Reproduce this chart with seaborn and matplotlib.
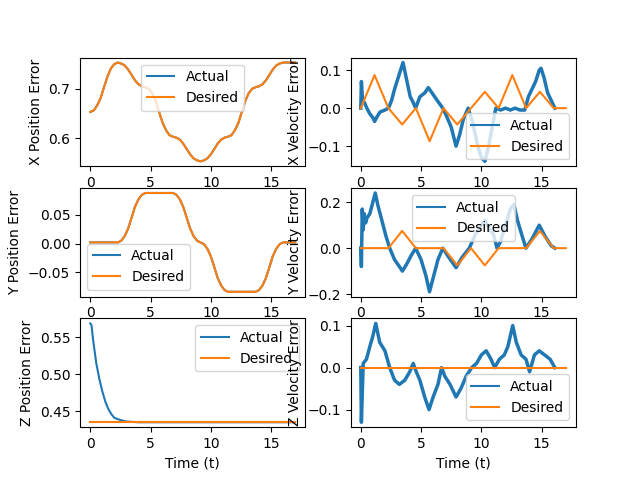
import numpy as np
import pandas as pd
import matplotlib
matplotlib.use("Agg")
import matplotlib.pyplot as plt
import seaborn as sns

# ---------------- data ----------------
t_pos = [0, 0.29, 0.57, 0.86, 1.14, 1.43, 1.71, 2.0, 2.29, 2.57, 2.86, 3.14, 3.43, 3.71,
         4.0, 4.29, 4.57, 4.86, 5.14, 5.43, 5.71, 6.0, 6.29, 6.57, 6.86, 7.14, 7.43, 7.71,
         8.0, 8.29, 8.57, 8.86, 9.14, 9.43, 9.71, 10.0, 10.29, 10.57, 10.86, 11.14, 11.43,
         11.71, 12.0, 12.29, 12.57, 12.86, 13.14, 13.43, 13.71, 14.0, 14.29, 14.57, 14.86,
         15.14, 15.43, 15.71, 16.0, 17.0]

x_pos_desired = [0.653, 0.656, 0.666, 0.681, 0.703, 0.725, 0.741, 0.750,
                 0.753, 0.751, 0.747, 0.739, 0.728, 0.717, 0.709, 0.705,
                 0.703, 0.700, 0.691, 0.675, 0.653, 0.631, 0.616, 0.606,
                 0.603, 0.601, 0.597, 0.589, 0.578, 0.567, 0.559, 0.555,
                 0.553, 0.555, 0.559, 0.567, 0.578, 0.589, 0.597, 0.601,
                 0.603, 0.606, 0.616, 0.631, 0.653, 0.675, 0.691, 0.700,
                 0.703, 0.705, 0.709, 0.717, 0.728, 0.739, 0.747, 0.751,
                 0.753, 0.753]
x_pos_actual = list(x_pos_desired)

y_pos_desired = [0.002, 0.002, 0.002, 0.002, 0.002, 0.002, 0.002, 0.002,
                 0.002, 0.005, 0.013, 0.026, 0.045, 0.064, 0.077, 0.085,
                 0.088, 0.088, 0.088, 0.088, 0.088, 0.088, 0.088, 0.088,
                 0.088, 0.085, 0.077, 0.064, 0.045, 0.026, 0.013, 0.005,
                 0.002, -0.001, -0.009, -0.022, -0.041, -0.060, -0.073, -0.081,
                 -0.084, -0.084, -0.084, -0.084, -0.084, -0.084, -0.084, -0.084,
                 -0.084, -0.081, -0.073, -0.060, -0.041, -0.022, -0.009, -0.001,
                 0.002, 0.002]
y_pos_actual = list(y_pos_desired)

t_zpos_actual = [0, 0.1, 0.25, 0.5, 0.75, 1.0, 1.25, 1.5, 1.75, 2.0, 2.5, 3.0, 4.0, 16.9]
z_pos_actual = [0.569, 0.567, 0.545, 0.515, 0.494, 0.477, 0.463, 0.453, 0.446, 0.441,
                0.438, 0.436, 0.435, 0.435]
t_zpos_desired = [0, 17]
z_pos_desired = [0.435, 0.435]

t_vel_desired = [0, 1.14, 2.29, 3.43, 4.57, 5.71, 6.86, 8.0, 9.14, 10.29, 11.43,
                 12.57, 13.71, 14.86, 16.0, 17.0]
x_vel_desired = [0, 0.087, 0, -0.043, 0, -0.087, 0, -0.043, 0, 0.043, 0,
                 0.087, 0, 0.043, 0, 0]
y_vel_desired = [0, 0, 0, 0.075, 0, 0, 0, -0.075, 0, -0.075, 0,
                 0, 0, 0.075, 0, 0]
z_vel_desired = [0, 0, 0, 0, 0, 0, 0, 0, 0, 0, 0, 0, 0, 0, 0, 0]

t_xvel_actual = [0, 0.05, 0.15, 0.3, 0.5, 0.75, 1.0, 1.15, 1.3, 1.6, 2.0, 2.3, 2.55,
                 2.8, 3.05, 3.3, 3.5, 3.7, 3.9, 4.1, 4.3, 4.55, 4.9, 5.3, 5.6, 5.8,
                 6.3, 6.8, 7.1, 7.5, 7.9, 8.2, 8.5, 8.9, 9.3, 9.7, 10.0, 10.3, 10.6,
                 10.9, 11.2, 11.6, 12.0, 12.4, 12.8, 13.2, 13.6, 13.9, 14.2, 14.5,
                 14.8, 14.95, 15.2, 15.5, 15.8, 16.1]
x_vel_actual = [0, 0.07, 0.02, 0.015, 0.0, -0.015, -0.025, -0.035, -0.025, -0.01,
                -0.005, 0.0, 0.02, 0.05, 0.075, 0.1, 0.12, 0.09, 0.06, 0.03, 0.018,
                0.0, 0.03, 0.04, 0.054, 0.045, 0.022, 0.0, -0.02, -0.05, -0.1, -0.07,
                -0.03, 0.0, -0.04, -0.1, -0.13, -0.14, -0.1, -0.05, 0.0, -0.005, 0.0,
                -0.005, 0.0, -0.005, -0.005, 0.03, 0.05, 0.07, 0.1, 0.105, 0.08, 0.04,
                0.02, 0.0]

t_yvel_actual = [0, 0.05, 0.12, 0.2, 0.28, 0.4, 0.5, 0.75, 1.0, 1.2, 1.4, 1.6, 1.85,
                 2.1, 2.4, 2.8, 3.2, 3.45, 3.8, 4.2, 4.55, 5.0, 5.4, 5.7, 6.05, 6.4,
                 6.8, 7.3, 7.9, 8.4, 9.0, 9.5, 10.0, 10.3, 10.7, 11.0, 11.3, 11.6,
                 12.0, 12.4, 12.7, 13.0, 13.4, 13.7, 14.2, 14.8, 15.3, 15.8, 16.1]
y_vel_actual = [0, -0.08, 0.17, 0.08, 0.15, 0.11, 0.13, 0.15, 0.2, 0.24, 0.19, 0.15,
                0.1, 0.05, 0.0, -0.05, -0.08, -0.1, -0.07, -0.03, 0.0, -0.05, -0.12,
                -0.19, -0.12, -0.05, 0.0, -0.04, -0.085, -0.04, 0.0, 0.06, 0.1, 0.12,
                0.08, 0.06, 0.0, 0.03, 0.1, 0.17, 0.19, 0.12, 0.05, 0.0, 0.04, 0.1,
                0.05, 0.01, 0.0]

t_zvel_actual = [0, 0.05, 0.2, 0.47, 0.75, 1.0, 1.24, 1.57, 2.0, 2.4, 2.8, 3.2, 3.65,
                 4.06, 4.35, 4.6, 4.9, 5.3, 5.66, 6.0, 6.4, 6.7, 6.96, 7.4, 7.9, 8.3,
                 8.75, 9.2, 9.6, 10.0, 10.4, 10.8, 11.1, 11.5, 11.9, 12.2, 12.6, 12.9,
                 13.3, 13.7, 14.0, 14.4, 14.8, 15.25, 15.7, 16.1]
z_vel_actual = [0, -0.13, 0.01, 0.02, 0.05, 0.075, 0.105, 0.06, 0.04, 0.0, -0.03,
                -0.04, -0.03, -0.01, 0.01, -0.01, -0.03, -0.07, -0.1, -0.07, -0.04,
                0.0, -0.02, -0.04, -0.07, -0.05, -0.02, 0.0, 0.01, 0.03, 0.04, 0.02,
                0.0, 0.02, 0.03, 0.05, 0.1, 0.06, 0.03, 0.02, -0.01, 0.03, 0.04, 0.03,
                0.02, 0.0]

y_labels = ["X Position Error", "X Velocity Error",
            "Y Position Error", "Y Velocity Error",
            "Z Position Error", "Z Velocity Error"]
x_label = "Time (t)"

# ---------------- plot ----------------
fig, axes = plt.subplots(3, 2, figsize=(6.4, 4.8), dpi=100)

panels = [
    (axes[0, 0], t_pos, x_pos_actual, t_pos, x_pos_desired, 1.5, "upper center"),
    (axes[0, 1], t_xvel_actual, x_vel_actual, t_vel_desired, x_vel_desired, 2.5, "lower right"),
    (axes[1, 0], t_pos, y_pos_actual, t_pos, y_pos_desired, 1.5, "lower left"),
    (axes[1, 1], t_yvel_actual, y_vel_actual, t_vel_desired, y_vel_desired, 2.5, "upper center"),
    (axes[2, 0], t_zpos_actual, z_pos_actual, t_zpos_desired, z_pos_desired, 1.5, "upper right"),
    (axes[2, 1], t_zvel_actual, z_vel_actual, t_vel_desired, z_vel_desired, 2.5, "lower right"),
]

for (ax, ta, va, td, vd, lw, loc), lab in zip(panels, y_labels):
    sns.lineplot(x=ta, y=va, ax=ax, color="C0", linewidth=lw, label="Actual",
                 estimator=None, sort=False)
    sns.lineplot(x=td, y=vd, ax=ax, color="C1", linewidth=1.5, label="Desired",
                 estimator=None, sort=False)
    ax.set_ylabel(lab)
    ax.set_xlabel("")
    leg = ax.legend(loc=loc)
    for ln in leg.get_lines():
        ln.set_linewidth(1.5)

axes[0, 0].set_yticks([0.6, 0.7])
axes[1, 0].set_yticks([-0.05, 0.0, 0.05])
axes[2, 0].set_yticks([0.45, 0.50, 0.55])
axes[0, 1].set_yticks([-0.1, 0.0, 0.1])
axes[1, 1].set_yticks([-0.2, 0.0, 0.2])
axes[2, 1].set_yticks([-0.1, 0.0, 0.1])
for ax in axes.flat:
    ax.set_xticks([0, 5, 10, 15])

axes[2, 0].set_xlabel(x_label)
axes[2, 1].set_xlabel(x_label)

fig.savefig("out.png", dpi=100)
